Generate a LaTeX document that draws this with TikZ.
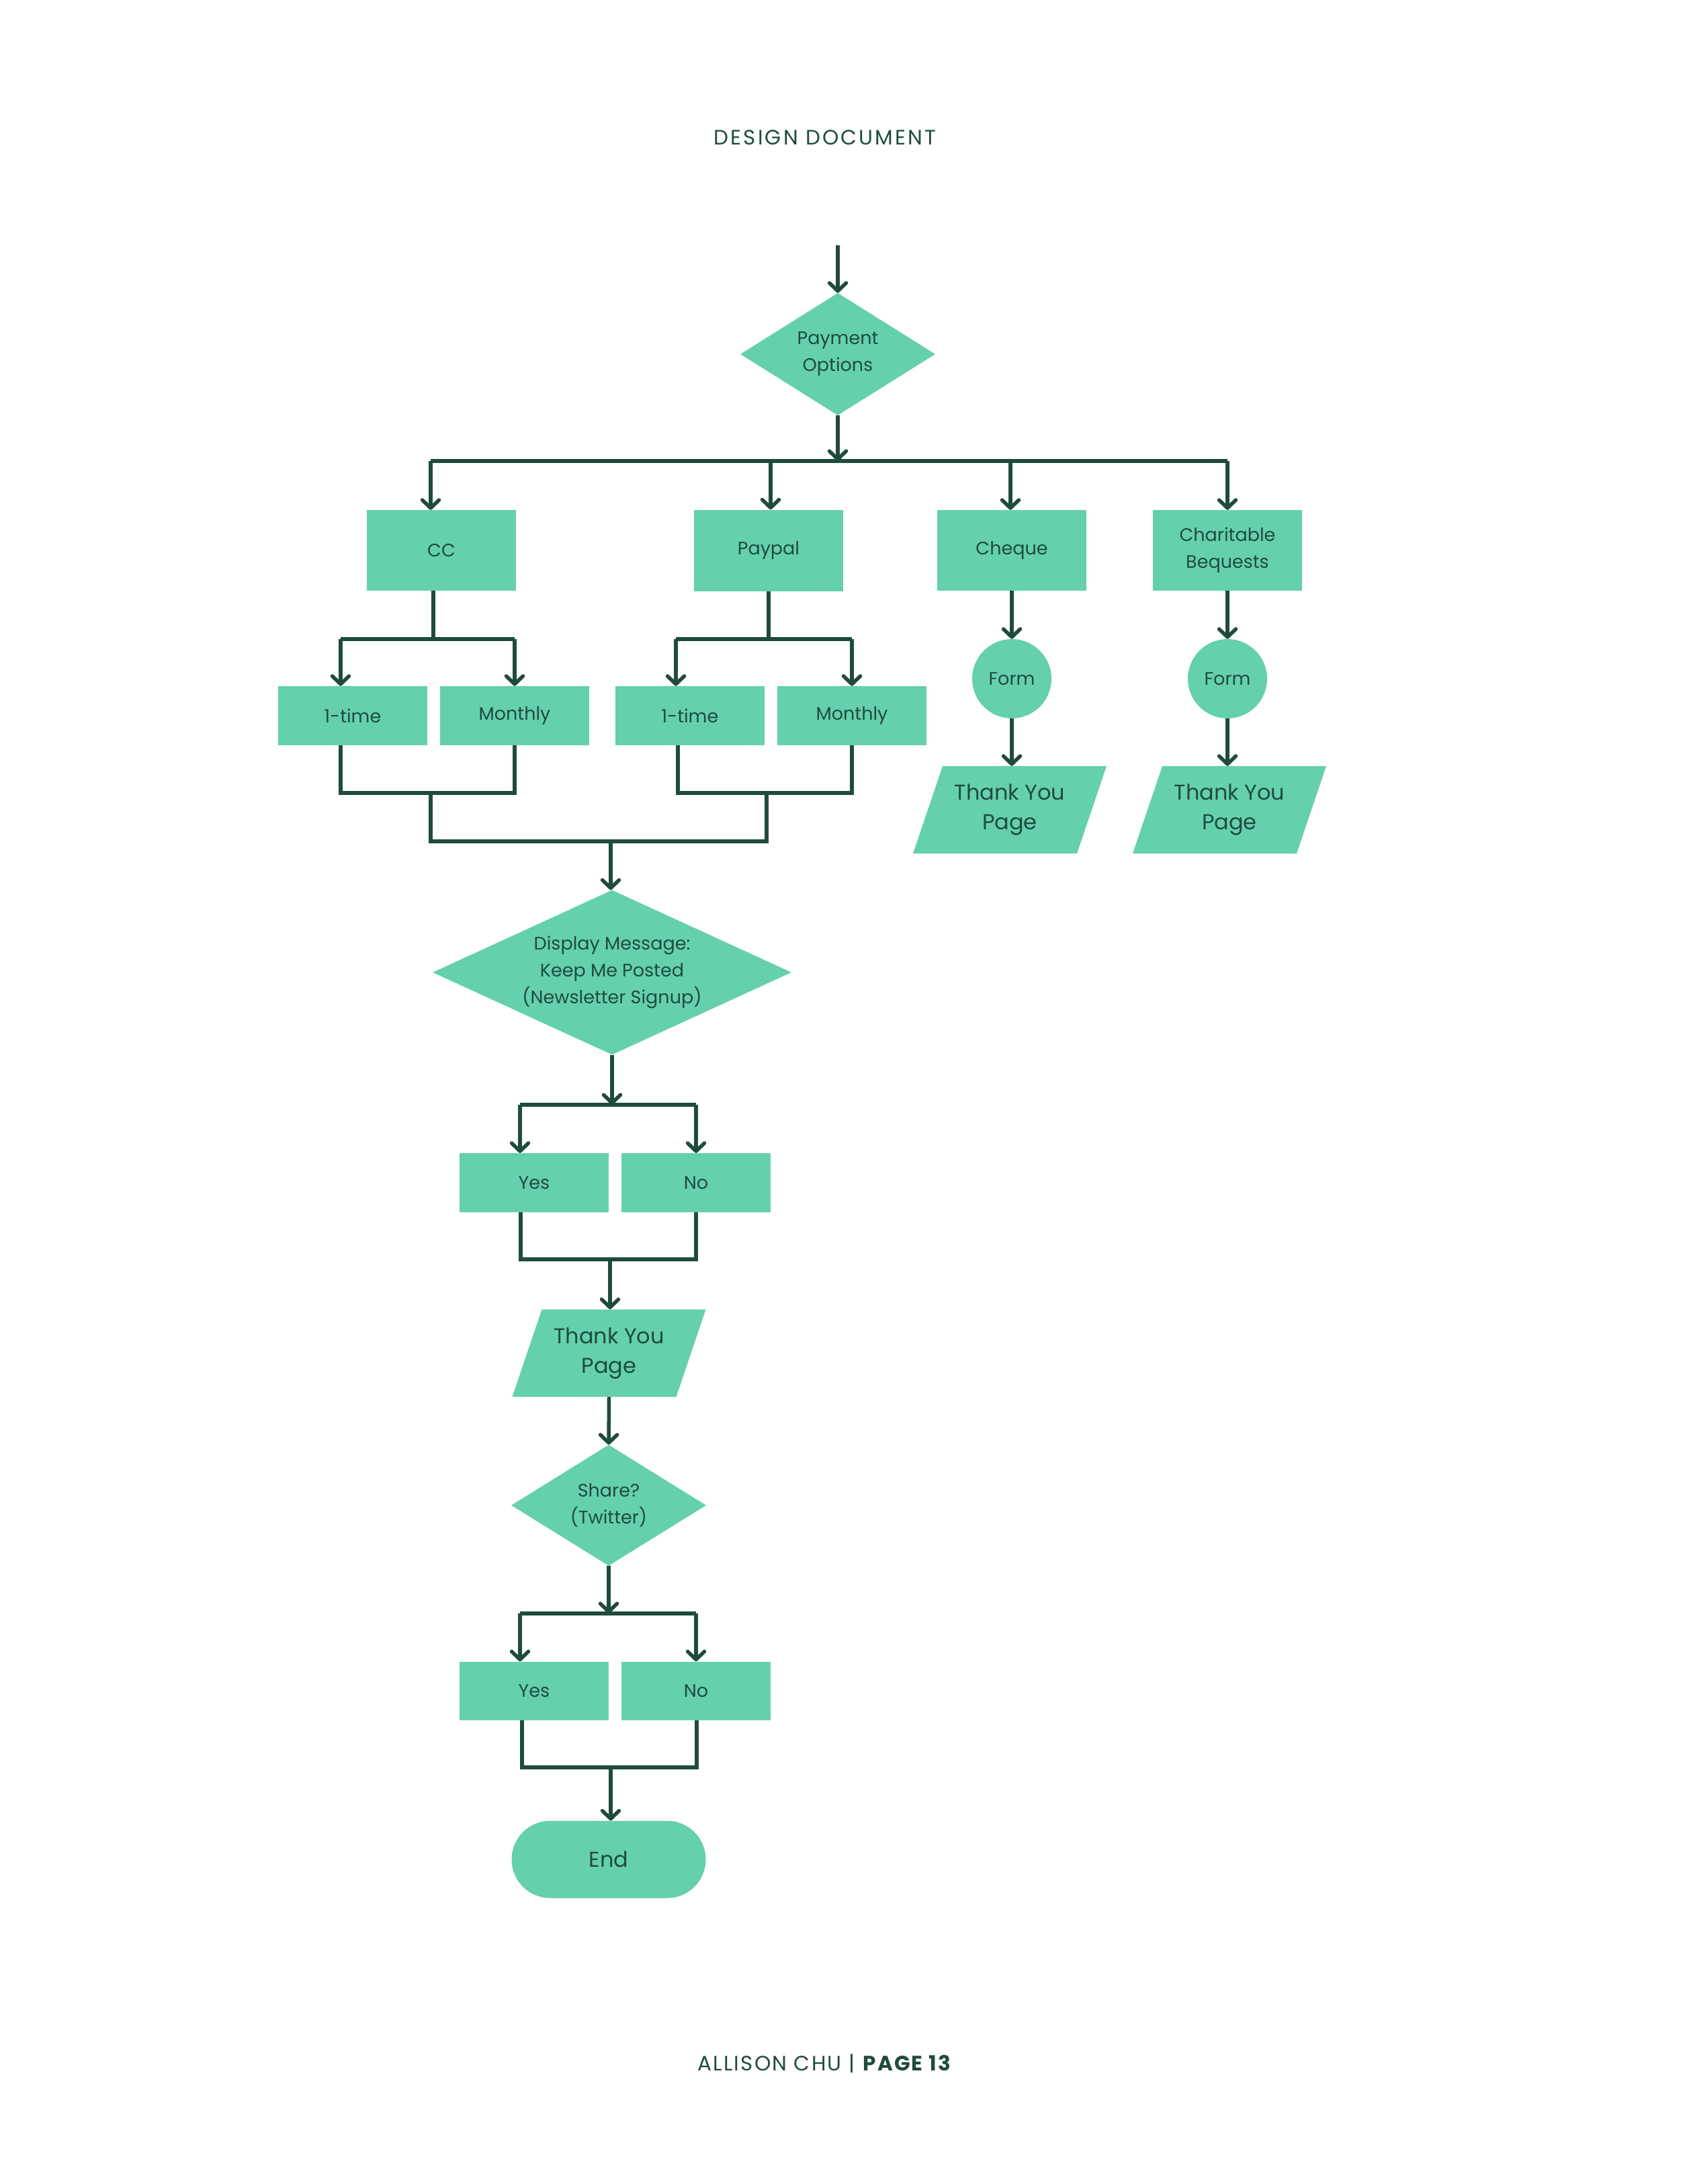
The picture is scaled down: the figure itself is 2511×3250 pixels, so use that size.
\documentclass[tikz,border=0pt]{standalone}
\usepackage{fontspec}
\setmainfont{Poppins}
\usetikzlibrary{arrows.meta,shapes.geometric,shapes.misc,calc}
\definecolor{gfill}{HTML}{64D0AE}
\definecolor{dk}{HTML}{1F4B3E}
\begin{document}
\begin{tikzpicture}[x=1pt,y=-1pt,
  every node/.style={text=dk, font=\fontsize{27}{40}\selectfont, align=center, inner sep=0pt},
  box/.style={rectangle, fill=gfill, minimum width=222pt, minimum height=#1},
  box/.default=88pt,
  diam/.style={diamond, fill=gfill, aspect=2},
  formc/.style={circle, fill=gfill, minimum size=118pt},
  para/.style={rectangle, minimum width=288pt, minimum height=130pt,
    font=\fontsize{32}{44}\selectfont,
    path picture={\fill[gfill] ([xshift=44pt]path picture bounding box.north west)
      -- (path picture bounding box.north east)
      -- ([xshift=-44pt]path picture bounding box.south east)
      -- (path picture bounding box.south west) -- cycle;}},
  conn/.style={draw=dk, line width=5.5pt, line join=miter},
  arr/.style={conn, -{Straight Barb[length=12pt,width=25pt,line width=5.5pt,round]}}
]
\fill[white] (0,0) rectangle (2511,3250);
\useasboundingbox (0,0) rectangle (2511,3250);

% header and footer
\node[font=\fontsize{31}{36}\selectfont\addfontfeature{LetterSpace=10}] (title) at (1228,205) {DESIGN DOCUMENT};
\node[font=\fontsize{31}{36}\selectfont\addfontfeature{LetterSpace=7}] (footer) at (1228,3071) {ALLISON CHU | \textbf{PAGE 13}};

% top decision
\coordinate (start) at (1247,365);
\node[diam, minimum width=290pt, minimum height=182pt] (pay) at (1247,527) {Payment\\Options};
\draw[arr] (start) -- (pay.north);
\coordinate (bar1) at (1247,686);

% first row boxes
\node[box=120pt] (cc) at (657,819) {CC};
\node[box=121pt] (pp) at (1144,819) {Paypal};
\node[box=120pt] (chq) at (1506,819) {Cheque};
\node[box=120pt] (chr) at (1827,819) {Charitable\\Bequests};

\coordinate (ccin) at ([xshift=-16pt]cc.north);
\coordinate (ppin) at ([xshift=3pt]pp.north);
\coordinate (chqin) at ([xshift=-2pt]chq.north);
\coordinate (chrin) at (chr.north);
\draw[conn] (ccin |- bar1) -- (chrin |- bar1);
\draw[arr] (pay.south) -- (bar1);
\draw[arr] (ccin |- bar1) -- (ccin);
\draw[arr] (ppin |- bar1) -- (ppin);
\draw[arr] (chqin |- bar1) -- (chqin);
\draw[arr] (chrin |- bar1) -- (chrin);

% CC group
\node[box] (cc1) at (525,1065) {1-time};
\node[box] (ccm) at (766,1065) {Monthly};
\coordinate (ccout) at ([xshift=-12pt]cc.south);
\coordinate (ccbar) at (645,951);
\coordinate (cc1in) at ([xshift=-18pt]cc1.north);
\coordinate (ccmin) at (ccm.north);
\draw[conn] (ccout) -- (ccbar);
\draw[conn] (cc1in |- ccbar) -- (ccmin |- ccbar);
\draw[arr] (cc1in |- ccbar) -- (cc1in);
\draw[arr] (ccmin |- ccbar) -- (ccmin);
\coordinate (cc1out) at ([xshift=-18pt]cc1.south);
\coordinate (ccmout) at (ccm.south);
\coordinate (ccj) at (641,1180);
\draw[conn] (cc1out) -- (cc1out |- ccj) -- (ccmout |- ccj) -- (ccmout);

% Paypal group
\node[box] (pp1) at (1027,1065) {1-time};
\node[box] (ppm) at (1268,1065) {Monthly};
\coordinate (ppout) at (pp.south);
\coordinate (ppbar) at (1144,951);
\coordinate (pp1in) at ([xshift=-21pt]pp1.north);
\coordinate (ppmin) at (ppm.north);
\draw[conn] (ppout) -- (ppbar);
\draw[conn] (pp1in |- ppbar) -- (ppmin |- ppbar);
\draw[arr] (pp1in |- ppbar) -- (pp1in);
\draw[arr] (ppmin |- ppbar) -- (ppmin);
\coordinate (pp1out) at ([xshift=-18pt]pp1.south);
\coordinate (ppmout) at (ppm.south);
\coordinate (ppj) at (1141,1180);
\draw[conn] (pp1out) -- (pp1out |- ppj) -- (ppmout |- ppj) -- (ppmout);

% merge
\coordinate (merge) at (909,1252);
\draw[conn] (ccj) -- (ccj |- merge) -- (ppj |- merge) -- (ppj);

% Cheque and Charitable columns
\node[formc] (f1) at (1506,1010) {Form};
\node[formc] (f2) at (1827,1010) {Form};
\node[para] (t1) at (1503,1205) {Thank You\\Page};
\node[para] (t2) at (1830,1205) {Thank You\\Page};
\draw[arr] (chq.south) -- (f1.north);
\draw[arr] (chr.south) -- (f2.north);
\draw[arr] (f1.south) -- (f1.south |- t1.north);
\draw[arr] (f2.south) -- (f2.south |- t2.north);

% display message
\node[diam, minimum width=534pt, minimum height=245pt] (disp) at (911,1447) {Display Message:\\Keep Me Posted\\(Newsletter Signup)};
\draw[arr] (merge) -- (merge |- disp.north);
\coordinate (bar3) at (911,1644);
\draw[arr] (disp.south) -- (bar3);
\node[box] (y1) at (795,1760) {Yes};
\node[box] (n1) at (1036,1760) {No};
\coordinate (y1in) at ([xshift=-21pt]y1.north);
\coordinate (n1in) at (n1.north);
\draw[conn] (y1in |- bar3) -- (n1in |- bar3);
\draw[arr] (y1in |- bar3) -- (y1in);
\draw[arr] (n1in |- bar3) -- (n1in);
\coordinate (y1out) at ([xshift=-20pt]y1.south);
\coordinate (n1out) at (n1.south);
\coordinate (j3) at (908,1874);
\draw[conn] (y1out) -- (y1out |- j3) -- (n1out |- j3) -- (n1out);

% thank you page
\node[para] (ty) at (906.5,2013.5) {Thank You\\Page};
\draw[arr] (j3) -- (j3 |- ty.north);

% share
\node[diam, minimum width=290pt, minimum height=180pt] (share) at (906,2240) {Share?\\(Twitter)};
\draw[arr] (ty.south) -- (share.north);
\coordinate (bar4) at (906,2401);
\draw[arr] (share.south) -- (bar4);
\node[box=87pt] (y2) at (795,2516) {Yes};
\node[box=87pt] (n2) at (1036,2516) {No};
\coordinate (y2in) at ([xshift=-21pt]y2.north);
\coordinate (n2in) at (n2.north);
\draw[conn] (y2in |- bar4) -- (n2in |- bar4);
\draw[arr] (y2in |- bar4) -- (y2in);
\draw[arr] (n2in |- bar4) -- (n2in);
\coordinate (y2out) at ([xshift=-18pt]y2.south);
\coordinate (n2out) at ([xshift=1pt]n2.south);
\coordinate (j5) at (909,2630);
\draw[conn] (y2out) -- (y2out |- j5) -- (n2out |- j5) -- (n2out);

% end
\node[rounded rectangle, fill=gfill, minimum width=289pt, minimum height=115pt, font=\fontsize{32}{40}\selectfont] (fin) at (906,2767) {End};
\draw[arr] (j5) -- (j5 |- fin.north);
\end{tikzpicture}
\end{document}
